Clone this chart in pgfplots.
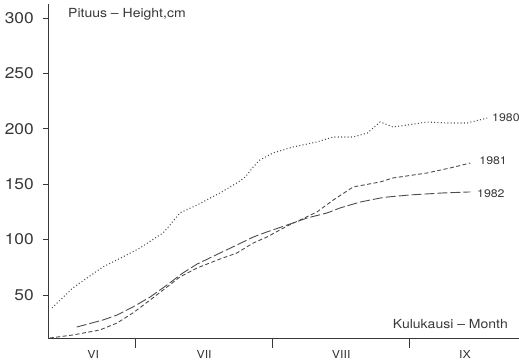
\documentclass[border=0pt]{standalone}
\usepackage{pgfplots}
\pgfplotsset{compat=1.18}
\usepackage{fontspec}
\setmainfont{TeX Gyre Heros}
\newfontfamily\wide[FakeStretch=1.12]{TeX Gyre Heros}
\definecolor{ink}{gray}{0.22}
\definecolor{curve}{gray}{0.30}

% Height growth per day counted from 1 June
\pgfplotstableread{
d v
11.1 38.3
15.8 56.3
19.0 65.3
22.6 75.3
27.1 84.3
31.0 92.4
36.2 106.0
37.8 113.2
40.0 124.0
43.9 131.2
49.1 142.1
52.9 151.1
54.8 156.5
56.6 165.5
58.1 171.8
61.1 178.2
65.6 183.6
71.0 188.1
74.7 192.6
79.2 192.6
82.4 196.2
85.3 206.1
88.2 201.6
91.4 203.4
95.9 206.1
100.5 205.2
105.0 205.2
109.5 209.7
}\yeareighty

\pgfplotstableread{
d v
10.6 11.2
15.8 13.9
21.9 18.4
25.8 24.7
29.4 33.8
33.3 45.5
37.1 57.2
40.0 66.2
43.9 74.4
49.1 82.5
52.9 87.9
56.6 96.9
59.7 102.3
64.3 112.3
67.2 117.7
71.0 124.9
74.7 135.7
79.2 147.5
85.3 152.0
88.2 155.6
95.9 160.1
101.1 164.6
105.7 169.1
}\yeareightyone

\pgfplotstableread{
d v
16.7 21.1
22.6 27.4
25.8 31.9
29.4 39.2
33.3 48.2
37.1 59.0
40.7 69.9
43.9 77.9
49.1 87.9
52.9 95.1
56.6 102.3
59.7 106.9
64.3 113.2
68.8 119.5
73.3 124.0
76.2 128.5
80.8 133.9
85.3 137.5
86.9 138.4
92.1 140.3
99.5 142.1
105.7 143.0
}\yeareightytwo

\tikzset{
  yearlabel/.style={anchor=base west, inner sep=0pt, text=ink, font=\wide\fontsize{11}{12}\selectfont},
  monthlabel/.style={anchor=base, inner sep=0pt, text=ink, font=\wide\fontsize{11}{12}\selectfont},
  axistitle/.style={inner sep=0pt, text=ink, font=\wide\fontsize{12.5}{13}\selectfont},
}

\begin{document}
\begin{tikzpicture}
\begin{axis}[
  at={(48pt,23pt)}, anchor=south west,
  scale only axis, width=471pt, height=334pt,
  xmin=10.2, xmax=116.7, ymin=11.2, ymax=312.6,
  axis x line=bottom, axis y line=left,
  axis line style={-, ink, line width=0.9pt},
  clip=false,
  ytick={50,100,150,200,250,300},
  xtick=\empty,
  extra x ticks={30,61,92}, extra x tick labels={},
  extra x tick style={major tick length=10pt},
  tick align=outside,
  tick style={ink, line width=0.9pt},
  major tick length=5pt,
  /pgf/number format/assume math mode=true,
  yticklabel style={font=\wide\fontsize{15.5}{16}\selectfont, text=ink,
                    anchor=east, inner sep=0pt, xshift=-9pt},
]
\addplot[curve, line width=1.05pt, dash pattern=on 1pt off 2.3pt] table[x=d,y=v]{\yeareighty};
\addplot[curve, line width=0.9pt, dash pattern=on 4pt off 2.5pt] table[x=d,y=v]{\yeareightyone};
\addplot[curve, line width=0.9pt, dash pattern=on 10pt off 3pt] table[x=d,y=v]{\yeareightytwo};

\node[yearlabel] at (axis cs:110.6,207) {1980};
\node[yearlabel] at (axis cs:107.7,168.2) {1981};
\node[yearlabel] at (axis cs:107.2,138.4) {1982};

\node[axistitle, anchor=base west] at ([xshift=20pt,yshift=-13.3pt]rel axis cs:0,1) {Pituus \textendash\ Height,cm};
\node[axistitle, anchor=base east] at ([xshift=-11pt,yshift=9pt]rel axis cs:1,0) {Kulukausi \textendash\ Month};

\node[monthlabel] at ([yshift=-20pt]axis cs:20.4,11.2) {VI};
\node[monthlabel] at ([yshift=-20pt]axis cs:45.5,11.2) {VII};
\node[monthlabel] at ([yshift=-20pt]axis cs:76.5,11.2) {VIII};
\node[monthlabel] at ([yshift=-20pt]axis cs:104.5,11.2) {IX};
\end{axis}
\pgfresetboundingbox
\useasboundingbox (0,0) rectangle (519pt,361pt);
\end{tikzpicture}
\end{document}
